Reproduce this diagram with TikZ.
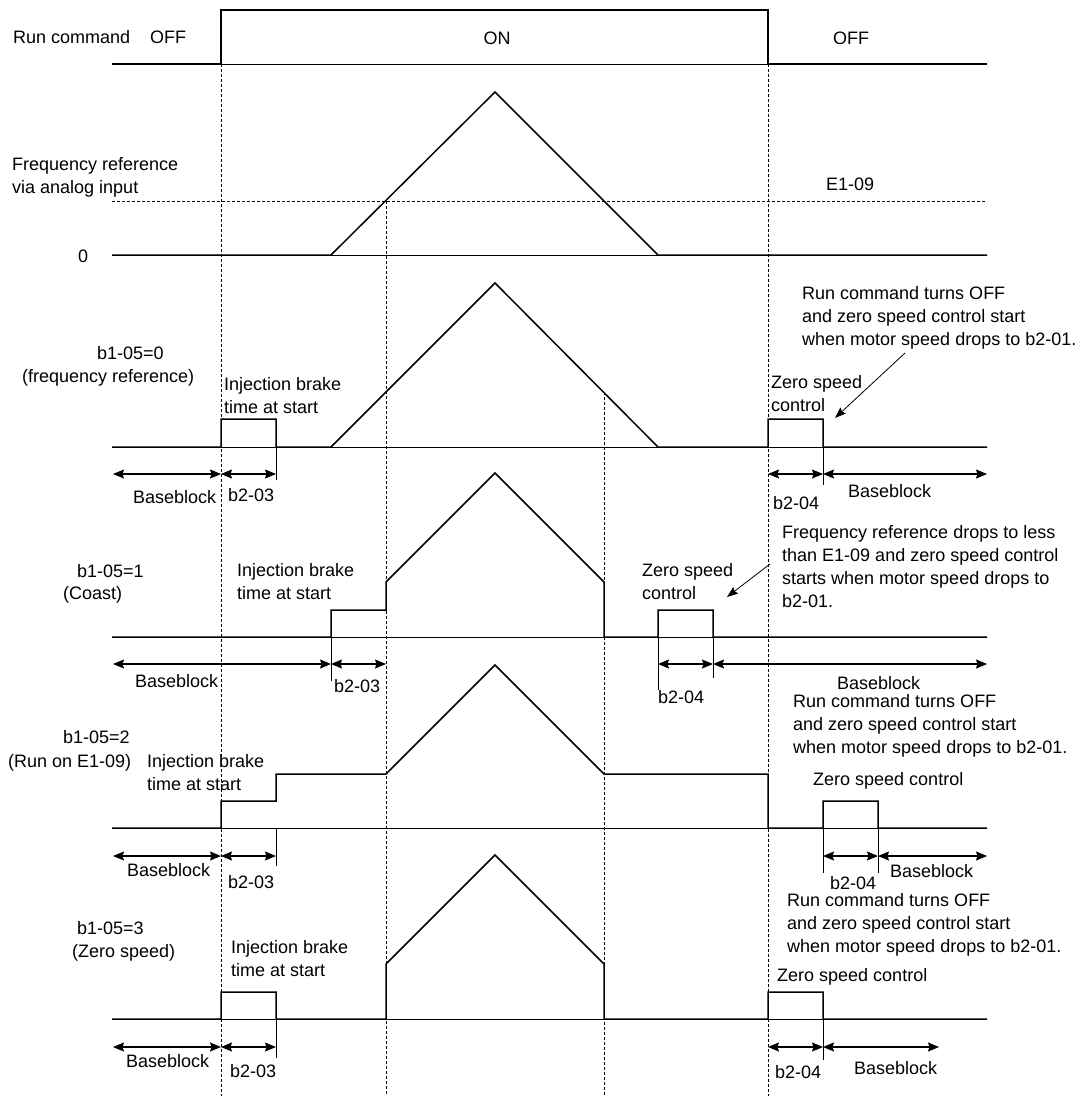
\documentclass[tikz,border=0pt]{standalone}
\usepackage{fontspec}
\setmainfont{Liberation Sans}
\usetikzlibrary{arrows.meta}
\tikzset{
  sig/.style={line width=1.5pt, line join=miter},
  axisline/.style={line width=0.8pt},
  guide/.style={line width=0.8pt, dash pattern=on 3pt off 2pt},
  dim/.style={line width=1.1pt, {Stealth[length=11pt,width=9pt,inset=1.5pt]}-{Stealth[length=11pt,width=9pt,inset=1.5pt]}},
  tick/.style={line width=1pt},
  callout/.style={line width=0.8pt, -{Stealth[length=11pt,width=8pt,inset=1.5pt]}},
  lbl/.style={anchor=base west, inner sep=0pt, align=left, font=\fontsize{18}{23}\selectfont}
}
\begin{document}
\begin{tikzpicture}[x=1pt,y=-1pt]
  \useasboundingbox (0,0) rectangle (1091,1096);
  % guides (multi-line labels sit on their last baseline)
  \foreach \x/\y in {221/64, 386/201, 604/392, 768/64}
    \draw [guide] (\x,\y) -- (\x,1096);
  \draw [guide] (112,201) -- (987,201);
  % axes
  \foreach \y in {64, 255, 447, 637, 828, 1019}
    \draw [axisline] (112,\y) -- (987,\y);
  % run command
  \draw [sig] (112,64) -- (221,64) -- (221,10) -- (768,10) -- (768,64) -- (987,64);
  \path (13,43) node [lbl] (runlbl) {Run command};
  \path (150,43) node [lbl] (runoff) {OFF};
  \path (497,44) node [lbl,anchor=base] (runon) {ON};
  \path (833,44) node [lbl] (runoff2) {OFF};
  % frequency reference
  \draw [sig] (112,255) -- (331,255) -- (495,92) -- (658,255) -- (987,255);
  \path (12,193) node [lbl] (freqlbl) {Frequency reference\\via analog input};
  \path (78,262) node [lbl] (zerolbl) {0};
  \path (826,190) node [lbl] (e109) {E1-09};
  % b1-05=0
  \draw [sig] (112,447) -- (221,447) -- (221,419) -- (276,419) -- (276,447) -- (331,447)
    -- (495,283) -- (658,447) -- (768,447) -- (768,419) -- (823,419) -- (823,447) -- (987,447);
  \draw [tick] (276,447) -- (276,480);
  \draw [tick] (823,447) -- (823,485);
  \draw [dim] (113,474) -- (221,474);
  \draw [dim] (221,474) -- (276,474);
  \draw [dim] (768,474) -- (823,474);
  \draw [dim] (823,474) -- (987,474);
  \path (97,359) node [lbl] (selzero) {b1-05=0};
  \path (22,382) node [lbl] (selzerob) {(frequency reference)};
  \path (224,413) node [lbl] (injzero) {Injection brake\\time at start};
  \path (133,503) node [lbl] (bbzero) {Baseblock};
  \path (228,501) node [lbl] (dczero) {b2-03};
  \path (771,411) node [lbl] (zszero) {Zero speed\\control};
  \path (848,497) node [lbl] (bbzeror) {Baseblock};
  \path (773,509) node [lbl] (zdzero) {b2-04};
  \path (802,345) node [lbl] (notezero) {Run command turns OFF\\and zero speed control start\\when motor speed drops to b2-01.};
  \coordinate (notezeroa) at (905,353);
  \coordinate (notezerob) at (835,418);
  \draw [callout] (notezeroa) -- (notezerob);
  % b1-05=1
  \draw [sig] (112,637) -- (331,637) -- (331,610) -- (386,610) -- (386,582) -- (495,473)
    -- (604,582) -- (604,637) -- (658,637) -- (658,610) -- (713,610) -- (713,637) -- (987,637);
  \draw [tick] (331,637) -- (331,681);
  \draw [tick] (658,637) -- (658,690);
  \draw [tick] (713,637) -- (713,678);
  \draw [dim] (113,664) -- (331,664);
  \draw [dim] (331,664) -- (386,664);
  \draw [dim] (658,664) -- (713,664);
  \draw [dim] (713,664) -- (987,664);
  \path (77,577) node [lbl] (selone) {b1-05=1};
  \path (63,599) node [lbl] (seloneb) {(Coast)};
  \path (237,599) node [lbl] (injone) {Injection brake\\time at start};
  \path (135,687) node [lbl] (bbone) {Baseblock};
  \path (334,692) node [lbl] (dcone) {b2-03};
  \path (642,599) node [lbl] (zsone) {Zero speed\\control};
  \path (837,689) node [lbl] (bboner) {Baseblock};
  \path (658,703) node [lbl] (zdone) {b2-04};
  \path (782,607) node [lbl] (noteone) {Frequency reference drops to less\\than E1-09 and zero speed control\\starts when motor speed drops to\\b2-01.};
  \coordinate (noteonea) at (770,564);
  \coordinate (noteoneb) at (727,597);
  \draw [callout] (noteonea) -- (noteoneb);
  % b1-05=2
  \draw [sig] (112,828) -- (221,828) -- (221,801) -- (276,801) -- (276,774) -- (386,774) -- (495,665)
    -- (604,774) -- (768,774) -- (768,828) -- (823,828) -- (823,801) -- (878,801) -- (878,828) -- (987,828);
  \draw [tick] (276,828) -- (276,866);
  \draw [tick] (823,828) -- (823,873);
  \draw [tick] (878,828) -- (878,873);
  \draw [dim] (113,856) -- (221,856);
  \draw [dim] (221,856) -- (276,856);
  \draw [dim] (823,856) -- (878,856);
  \draw [dim] (878,856) -- (987,856);
  \path (63,743) node [lbl] (seltwo) {b1-05=2};
  \path (8,767) node [lbl] (seltwob) {(Run on E1-09)};
  \path (147,790) node [lbl] (injtwo) {Injection brake\\time at start};
  \path (127,876) node [lbl] (bbtwo) {Baseblock};
  \path (228,888) node [lbl] (dctwo) {b2-03};
  \path (813,785) node [lbl] (zstwo) {Zero speed control};
  \path (890,877) node [lbl] (bbtwor) {Baseblock};
  \path (830,889) node [lbl] (zdtwo) {b2-04};
  \path (793,753) node [lbl] (notetwo) {Run command turns OFF\\and zero speed control start\\when motor speed drops to b2-01.};
  % b1-05=3
  \draw [sig] (112,1019) -- (221,1019) -- (221,992) -- (276,992) -- (276,1019) -- (386,1019) -- (386,964)
    -- (495,855) -- (604,964) -- (604,1019) -- (768,1019) -- (768,992) -- (823,992) -- (823,1019) -- (987,1019);
  \draw [tick] (276,1019) -- (276,1058);
  \draw [tick] (823,1019) -- (823,1060);
  \draw [dim] (113,1047) -- (221,1047);
  \draw [dim] (221,1047) -- (276,1047);
  \draw [dim] (768,1047) -- (823,1047);
  \draw [dim] (823,1047) -- (939,1047);
  \path (77,934) node [lbl] (selthree) {b1-05=3};
  \path (72,957) node [lbl] (selthreeb) {(Zero speed)};
  \path (231,976) node [lbl] (injthree) {Injection brake\\time at start};
  \path (126,1067) node [lbl] (bbthree) {Baseblock};
  \path (230,1077) node [lbl] (dcthree) {b2-03};
  \path (777,981) node [lbl] (zsthree) {Zero speed control};
  \path (854,1074) node [lbl] (bbthreer) {Baseblock};
  \path (775,1078) node [lbl] (zdthree) {b2-04};
  \path (787,952) node [lbl] (notethree) {Run command turns OFF\\and zero speed control start\\when motor speed drops to b2-01.};
\end{tikzpicture}
\end{document}
